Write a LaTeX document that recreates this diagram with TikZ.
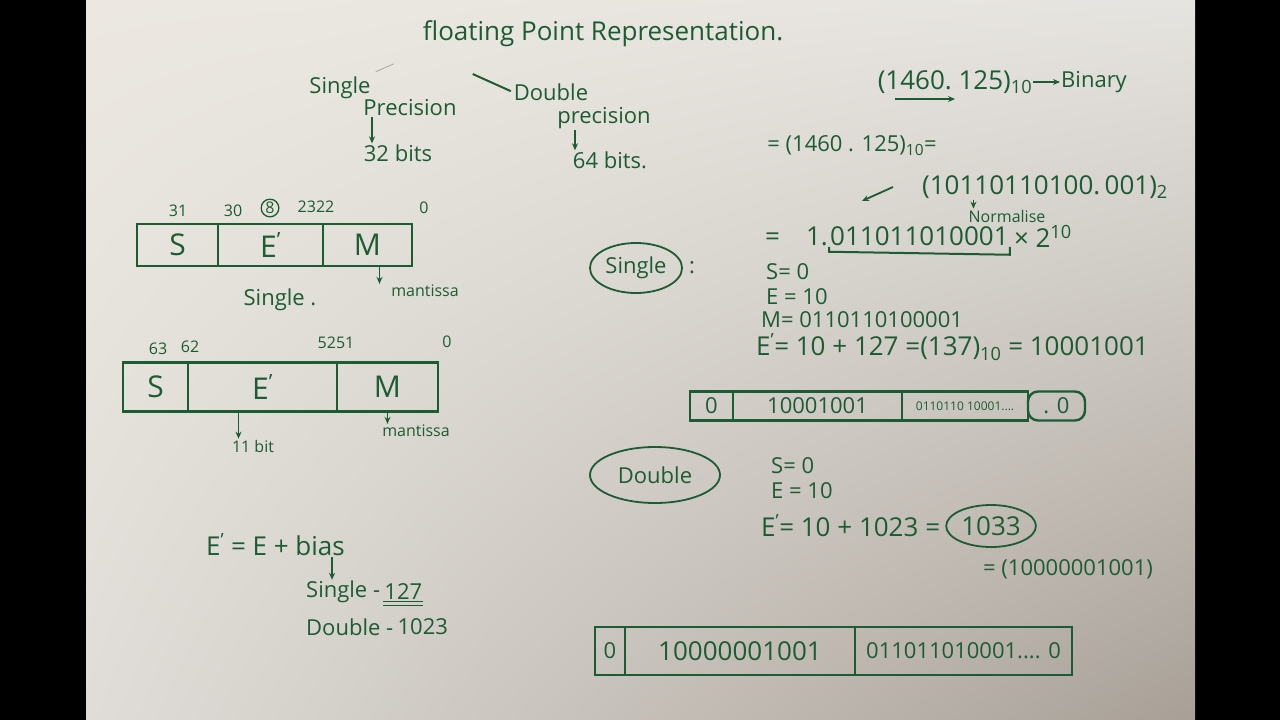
\documentclass[tikz,border=0pt]{standalone}
\usepackage{fontspec}
\setmainfont{Open Sans}
\usetikzlibrary{positioning,arrows.meta,calc,shapes.geometric,shadings}
\definecolor{ink}{RGB}{28,92,52}
\definecolor{paperA}{RGB}{236,232,225}
\definecolor{paperB}{RGB}{230,228,224}
\definecolor{paperC}{RGB}{224,221,216}
\definecolor{paperD}{RGB}{168,160,151}
\newcommand\hwX{\fontsize{30}{34}\selectfont}
\newcommand\hwL{\fontsize{26}{30}\selectfont}
\newcommand\hw{\fontsize{22}{26}\selectfont}
\newcommand\hwS{\fontsize{16}{19}\selectfont}
\newcommand\hwT{\fontsize{12}{14}\selectfont}
\newcommand\Ep{E\textsuperscript{'}}

\begin{document}
\begin{tikzpicture}[x=1pt,y=-1pt,
txt/.style={text=ink,font=\hw,inner sep=1pt},
cell/.style={draw=ink,line width=2.4pt,minimum height=#1,inner sep=0pt,outer sep=0pt,text=ink,font=\hwX},
cell/.default=40,
arr/.style={-{Stealth[length=7pt,width=6pt]},line width=1.8pt,ink},
ln/.style={line width=2pt,ink},
ring/.style={draw=ink,line width=1.8pt,ellipse,inner sep=2pt}]
\useasboundingbox (0,0) rectangle (1280,720);
\fill[black] (0,0) rectangle (1280,720);
\shade[upper left=paperA,upper right=paperB,lower left=paperC,lower right=paperD] (86,0) rectangle (1195,720);

% title and the two formats
\node[txt,font=\hwL] (title) at (603,34) {floating Point Representation.};
\node[txt] (sgl) at (340,88) {Single};
\node[txt] (sprec) at (410,108) {Precision};
\node[txt] (s32) at (398,153) {32 bits};
\node[txt] (dbl) at (551,92) {Double};
\node[txt] (dprec) at (604,118) {precision};
\node[txt] (d64) at (610,160) {64 bits.};
\draw[black!35,line width=0.8pt] ($(sgl.north east)+(4,-4)$) -- ++(18,-8);
\draw[ln,shorten <=2pt] (dbl.west) -- ++(-40,-18);
\draw[arr] ([xshift=-38pt]sprec.south) -- ([xshift=-38pt]sprec.south |- s32.north);
\draw[arr] ([xshift=-29pt]dprec.south) -- ([xshift=-29pt]dprec.south |- d64.north);

% single precision layout
\node[cell=42,minimum width=81] (sS) at (177.5,245) {S};
\node[cell=42,minimum width=105,right=0pt of sS] (sE) {\Ep};
\node[cell=42,minimum width=89,right=0pt of sE] (sM) {M};
\node[txt,font=\hwS] (b31) at (178,211) {31};
\node[txt,font=\hwS] (b30) at (233,211) {30};
\node[txt,font=\hwS,draw=ink,circle,line width=1.3pt,inner sep=1pt] (b8) at (270,208) {8};
\node[txt,font=\hwS] (b23) at (316,207) {2322};
\node[txt,font=\hwS] (b0) at (424,208) {0};
\node[txt,font=\hwS] (mant1) at (425,291) {mantissa};
\node[txt] (slab) at (280,300) {Single .};
\draw[arr] ([xshift=12pt]sM.south) -- ([xshift=12pt]sM.south |- mant1.north);

% double precision layout
\node[cell=49,minimum width=65] (dS) at (155.5,387) {S};
\node[cell=49,minimum width=149,right=0pt of dS] (dE) {\Ep};
\node[cell=49,minimum width=101,right=0pt of dE] (dM) {M};
\node[txt,font=\hwS] (b63) at (158,349) {63};
\node[txt,font=\hwS] (b62) at (190,347) {62};
\node[txt,font=\hwS] (b52) at (336,343) {5251};
\node[txt,font=\hwS] (b00) at (447,342) {0};
\node[txt,font=\hwS] (b11) at (253,446) {11 bit};
\node[txt,font=\hwS] (mant2) at (416,431) {mantissa};
\draw[arr] ([xshift=-24pt]dE.south) -- ([xshift=-24pt]dE.south |- b11.north);
\draw[arr] (dM.south) -- (dM.south |- mant2.north);

% bias
\node[txt,font=\hwL,anchor=west] (bias) at (205,545) {\Ep\ = E + bias};
\node[txt,anchor=west] (sbl) at (305,592) {Single -};
\node[txt,right=2pt of sbl] (sbn) {127};
\node[txt,anchor=west] (dbl2) at (305,627) {Double -};
\node[txt,right=2pt of dbl2] (dbn) {1023};
\draw[arr] ([xshift=-14pt]bias.south east) -- ([xshift=-14pt]bias.south east |- sbl.north);
\draw[ln,line width=1.3pt] (sbn.south west) -- (sbn.south east);
\draw[ln,line width=1.3pt] ([yshift=-4pt]sbn.south west) -- ([yshift=-4pt]sbn.south east);

% conversion
\node[txt,font=\hwL] (dec) at (955,82) {(1460.\ 125)\textsubscript{10}};
\node[txt] (binw) at (1094,82) {Binary};
\draw[arr] (dec.east) -- (binw.west);
\draw[arr] ([shift={(18,4)}]dec.south west) -- ([shift={(0,4)}]dec.south);
\node[txt] (dec2) at (852,146) {= (1460 . 125)\textsubscript{10}=};
\node[txt,font=\hwL] (binv) at (1045,187) {(10110110100.\,001)\textsubscript{2}};
\node[txt,font=\hwS] (nrm) at (1007,216) {Normalise};
\draw[arr] ([xshift=6pt]nrm.north west |- binv.south) -- ([xshift=6pt]nrm.north west);
\coordinate (sw) at (862,201);
\draw[arr] ([xshift=-28pt]binv.west) -- (sw);
\node[txt,font=\hwL,anchor=east] (neq) at (829,236) {=\quad 1.};
\node[txt,font=\hwL,right=0pt of neq] (nman) {011011010001};
\node[txt,font=\hwL,right=3pt of nman] (npow) {× 2\textsuperscript{10}};
\draw[ln] (nman.south west) -- ++(0,5) -- ($(nman.south east)+(0,8)$) -- ++(0,-8);

% single worked example
\node[txt,ring,minimum width=92,minimum height=50] (sng) at (636,268) {Single};
\node[txt,right=5pt of sng] (col) {:};
\node[txt,anchor=west] (s0) at (765,272) {S= 0};
\node[txt,anchor=west] (e10) at (765,297) {E = 10};
\node[txt,anchor=west] (mval) at (760,320) {M= 0110110100001};
\node[txt,font=\hwL,anchor=west] (ep1) at (755,347) {\Ep = 10 + 127 =(137)\textsubscript{10} = 10001001};
\node[cell=29,minimum width=43,font=\hw] (r1) at (711.5,406) {0};
\node[cell=29,minimum width=169,font=\hw,right=0pt of r1] (r2) {10001001};
\node[cell=29,minimum width=126,font=\hwT,right=0pt of r2] (r3) {0110110 10001....};
\node[cell=29,minimum width=57,font=\hw,rounded corners=10pt,right=0pt of r3] (r4) {. 0};

% double worked example
\node[txt,ring,minimum width=130,minimum height=56] (dbe) at (655,475) {Double};
\node[txt,anchor=west] (ds0) at (770,466) {S= 0};
\node[txt,anchor=west] (de10) at (770,491) {E = 10};
\node[txt,font=\hwL,anchor=west] (dep) at (760,526) {\Ep = 10 + 1023 =};
\node[txt,font=\hwL,ring,minimum width=76,minimum height=42,right=4pt of dep] (d1033) {1033};
\node[txt] (dbin) at (1068,569) {= (10000001001)};
\node[cell=48,minimum width=30,font=\hw] (q1) at (610,651) {0};
\node[cell=48,minimum width=230,font=\hwL,right=0pt of q1] (q2) {10000001001};
\node[cell=48,minimum width=217,font=\hw,right=0pt of q2] (q3) {011011010001.... 0};
\end{tikzpicture}
\end{document}
